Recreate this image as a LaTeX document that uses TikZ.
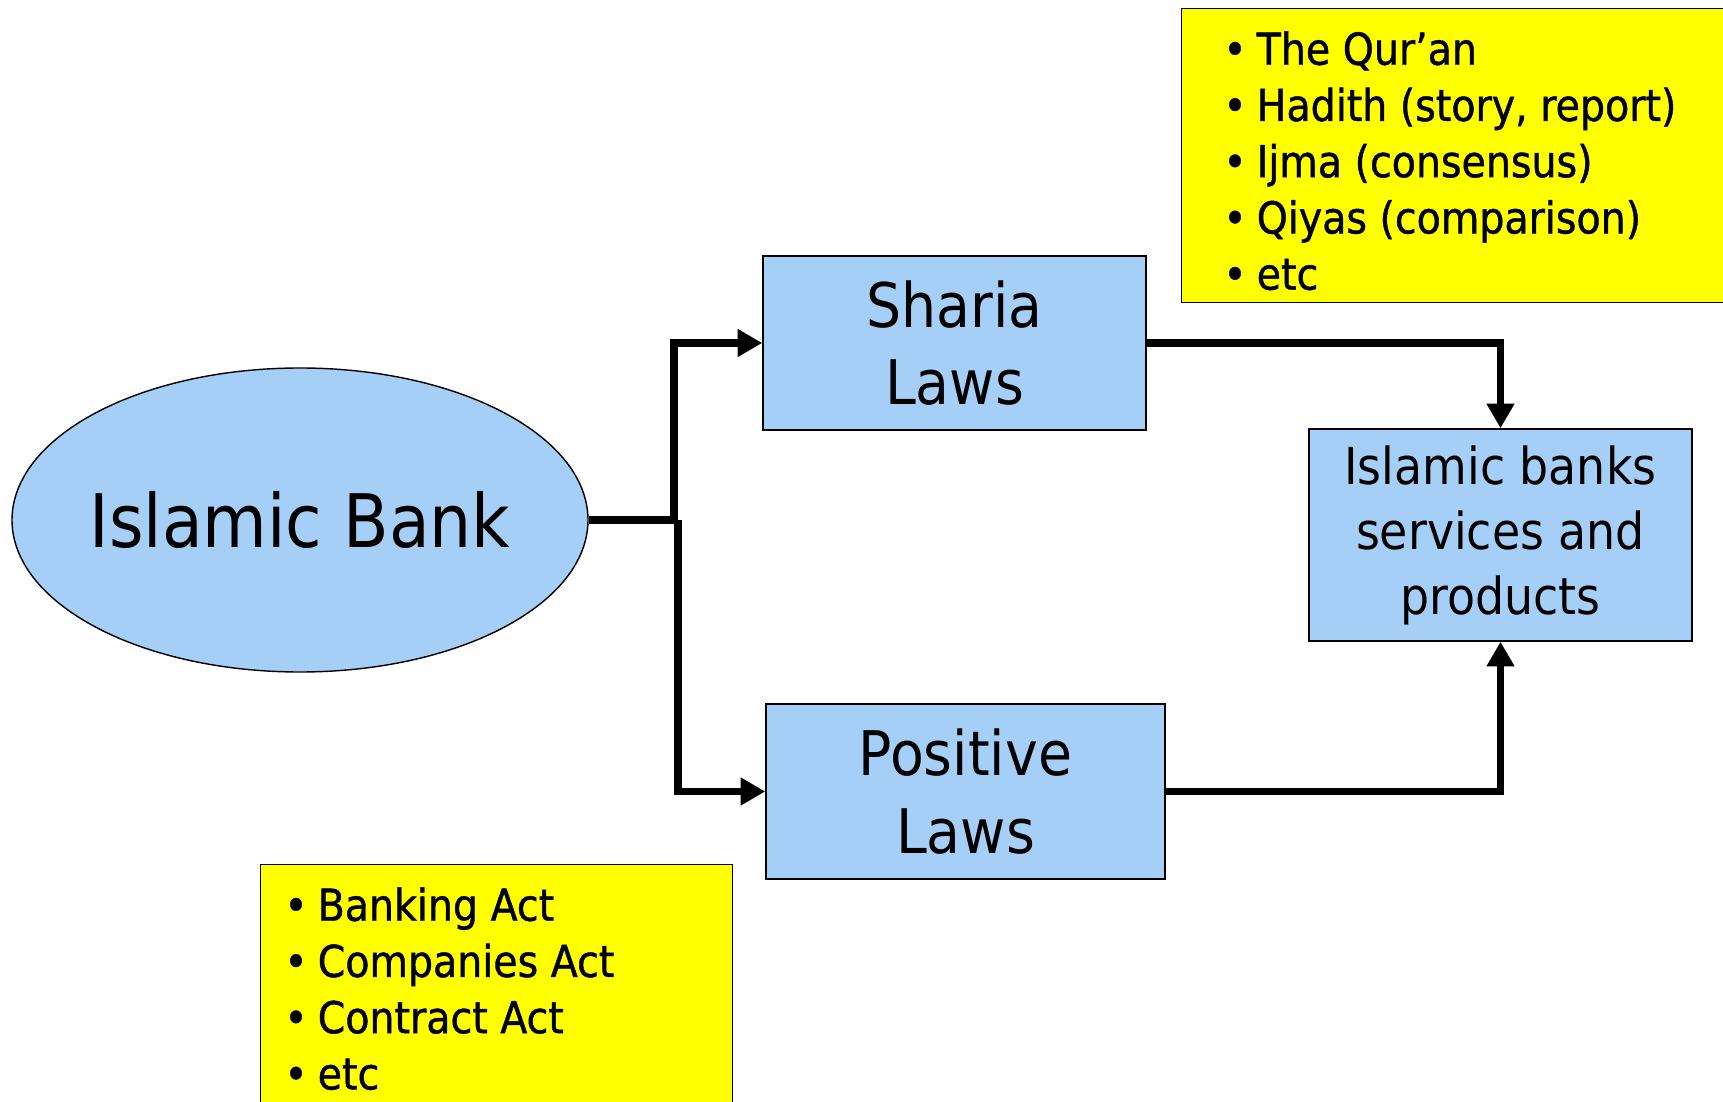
\documentclass[tikz,border=0pt]{standalone}
\usepackage{fontspec}
\setmainfont{DejaVu Sans Condensed}
\newfontfamily\notefont[FakeBold=1]{DejaVu Sans Condensed}
\usetikzlibrary{arrows.meta,positioning,shapes.geometric}
\definecolor{skyfill}{RGB}{166,207,247}
\definecolor{notefill}{RGB}{255,255,0}

\begin{document}
\begin{tikzpicture}
                \tikzset{Blob/.style={ellipse, draw=black, line width=0.8pt, fill=skyfill, inner sep=0pt}}
                \tikzset{Box/.style={rectangle, draw=black, line width=0.8pt, fill=skyfill, align=center, inner sep=0pt}}
                \tikzset{Note/.style={rectangle, draw=black, line width=0.8pt, fill=notefill, anchor=north west, inner sep=0pt}}
                \tikzset{List/.style={anchor=north west, inner sep=0pt, align=left, font=\notefont\fontsize{25}{32}\selectfont}}
                \tikzset{Link/.style={line width=4.5pt, -{Triangle[length=14pt,width=15pt]}}}
                \newcommand{\itm}{\makebox[19pt][l]{•}}

                \useasboundingbox (0,0) rectangle (34.46,22.02);

                \node[Blob, minimum width=11.52cm, minimum height=6.08cm, font=\fontsize{42}{50}\selectfont](Bank) at (6.00,11.62) {\makebox[0pt]{Islamic Bank}};
                \node[Box, minimum width=7.66cm, minimum height=3.48cm, font=\fontsize{35}{44}\selectfont](Sharia) at (19.09,15.16) {Sharia\\Laws};
                \node[Box, minimum width=7.98cm, minimum height=3.50cm, font=\fontsize{35}{44}\selectfont](Positive) at (19.31,6.19) {Positive\\Laws};
                \node[Box, minimum width=7.66cm, minimum height=4.24cm, font=\fontsize{29}{37}\selectfont](Products) at (30.01,11.32) {Islamic banks\\services and\\products};

                % sources of sharia
                \node[Note, minimum width=11.5cm, minimum height=5.88cm](SrcBox) at (23.62,21.86) {};
                \node[List](SrcList) at ([xshift=0.84cm,yshift=-0.46cm]SrcBox.north west)
                    {\itm The Qur’an\\ \itm Hadith (story, report)\\ \itm Ijma (consensus)\\ \itm Qiyas (comparison)\\ \itm etc};

                % positive laws
                \node[Note, minimum width=9.44cm, minimum height=5.4cm](ActBox) at (5.20,4.74) {};
                \node[List](ActList) at ([xshift=0.48cm,yshift=-0.46cm]ActBox.north west)
                    {\itm Banking Act\\ \itm Companies Act\\ \itm Contract Act\\ \itm etc};

                \coordinate (SplitA) at (13.48,11.62);
                \coordinate (SplitB) at (13.56,11.62);

                \draw[line width=4.5pt] (Bank.east) -- (SplitB);
                \draw[Link] (SplitA) |- (Sharia.west);
                \draw[Link] (SplitB) |- (Positive.west);
                \draw[Link] (Sharia.east) -| (Products.north);
                \draw[Link] (Positive.east) -| (Products.south);
            \end{tikzpicture}
\end{document}
